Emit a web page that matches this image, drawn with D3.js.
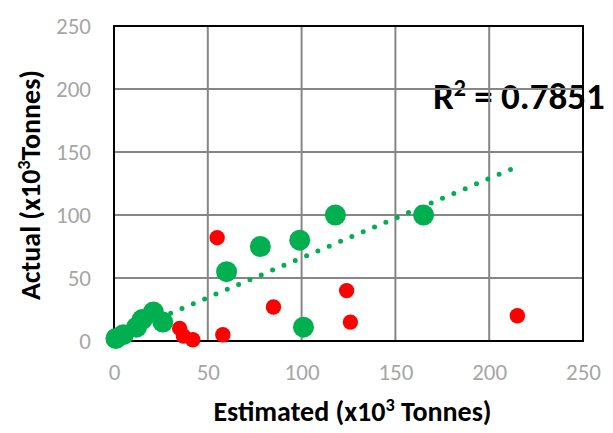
<!DOCTYPE html>
<html lang="en">
<head>
    <meta charset="UTF-8">
    <title>Estimated vs Actual</title>
    <script src="https://cdnjs.cloudflare.com/ajax/libs/d3/7.8.5/d3.min.js"></script>
    <style>
        body { margin: 0; background: #fff; }
        text { font-family: Carlito, Lato, "Open Sans", sans-serif; }
    </style>
</head>
<body>
    <div id="chart"></div>
    <script>
        // Green series (estimated, actual) in x10^3 tonnes
        const greenX = [1, 5, 12, 15, 21, 26, 60, 78, 99, 101, 118, 165];
        const greenY = [2, 5, 11, 17, 23, 15, 55, 75, 80, 11, 100, 100];
        // Red series
        const redX = [35, 37, 42, 55, 58, 85, 124, 126, 215];
        const redY = [10, 4, 1, 82, 5, 27, 40, 15, 20];
        // Dotted trendline
        const trendRange = [0, 213];
        const trendSlope = 0.63;
        const trendIntercept = 3;
        const rSquared = "0.7851";

        const xTicks = [0, 50, 100, 150, 200, 250];
        const yTicks = [0, 50, 100, 150, 200, 250];

        const W = 613, H = 433;
        const margin = {top: 26, right: 30, bottom: 92, left: 114};
        const width = W - margin.left - margin.right;
        const height = H - margin.top - margin.bottom;

        const svg = d3.select("#chart").append("svg")
            .attr("width", W)
            .attr("height", H);

        const g = svg.append("g")
            .attr("transform", `translate(${margin.left},${margin.top})`);

        const x = d3.scaleLinear().domain([0, 250]).range([0, width]);
        const y = d3.scaleLinear().domain([0, 250]).range([height, 0]);

        // text with one superscript part: [before, sup, after]
        function supText(sel, parts, size) {
            const shift = size * 0.36;
            sel.append("tspan").text(parts[0]);
            sel.append("tspan")
                .attr("font-size", size * 0.65)
                .attr("dy", -shift)
                .text(parts[1]);
            sel.append("tspan")
                .attr("dy", shift)
                .text(parts[2]);
        }

        // R² label (sits under the grid lines like in the original)
        const r2 = g.append("text")
            .attr("x", x(170))
            .attr("y", y(184))
            .attr("font-size", 37)
            .attr("font-weight", 700)
            .attr("fill", "#000");
        supText(r2, ["R", "2", ` = ${rSquared}`], 37);

        // Grid lines
        g.append("g")
            .selectAll("line")
            .data(yTicks.slice(1, -1))
            .join("line")
            .attr("x1", 0).attr("x2", width)
            .attr("y1", d => y(d)).attr("y2", d => y(d))
            .attr("stroke", "#868686")
            .attr("stroke-width", 2);

        g.append("g")
            .selectAll("line")
            .data(xTicks.slice(1, -1))
            .join("line")
            .attr("y1", 0).attr("y2", height)
            .attr("x1", d => x(d)).attr("x2", d => x(d))
            .attr("stroke", "#868686")
            .attr("stroke-width", 2);

        // Plot border
        g.append("rect")
            .attr("width", width)
            .attr("height", height)
            .attr("fill", "none")
            .attr("stroke", "#000")
            .attr("stroke-width", 2);

        // Tick labels
        const xAxis = g.append("g")
            .attr("transform", `translate(0,${height})`)
            .call(d3.axisBottom(x).tickValues(xTicks).tickSize(0).tickPadding(23));
        const yAxis = g.append("g")
            .call(d3.axisLeft(y).tickValues(yTicks).tickSize(0).tickPadding(23));
        [xAxis, yAxis].forEach(a => {
            a.select(".domain").remove();
            a.selectAll("text")
                .attr("font-family", "Carlito, Lato, 'Open Sans', sans-serif")
                .attr("font-size", 23)
                .attr("fill", "#A6A6A6");
        });

        // Points
        const green = greenX.map((v, i) => [v, greenY[i]]);
        const red = redX.map((v, i) => [v, redY[i]]);

        g.append("g")
            .selectAll("circle")
            .data(green)
            .join("circle")
            .attr("cx", d => x(d[0]))
            .attr("cy", d => y(d[1]))
            .attr("r", 10.5)
            .attr("fill", "#00B050");

        g.append("g")
            .selectAll("circle")
            .data(red)
            .join("circle")
            .attr("cx", d => x(d[0]))
            .attr("cy", d => y(d[1]))
            .attr("r", 7.7)
            .attr("fill", "#FF0000");

        // Trendline
        const line = d3.line()
            .x(d => x(d))
            .y(d => y(trendSlope * d + trendIntercept));

        g.append("path")
            .datum(trendRange)
            .attr("fill", "none")
            .attr("stroke", "#00B050")
            .attr("stroke-width", 5)
            .attr("stroke-linecap", "round")
            .attr("stroke-dasharray", "0 12.3")
            .attr("d", line);

        // Axis titles
        const xTitle = svg.append("text")
            .attr("text-anchor", "middle")
            .attr("x", margin.left + width / 2 + 4)
            .attr("y", 421)
            .attr("font-size", 28)
            .attr("font-weight", 700);
        supText(xTitle, ["Estimated (x10", "3", " Tonnes)"], 28);

        const yTitle = svg.append("text")
            .attr("text-anchor", "middle")
            .attr("transform", "rotate(-90)")
            .attr("x", -185)
            .attr("y", 40)
            .attr("font-size", 28)
            .attr("font-weight", 700);
        supText(yTitle, ["Actual (x10", "3", "Tonnes)"], 28);
    </script>
</body>
</html>
